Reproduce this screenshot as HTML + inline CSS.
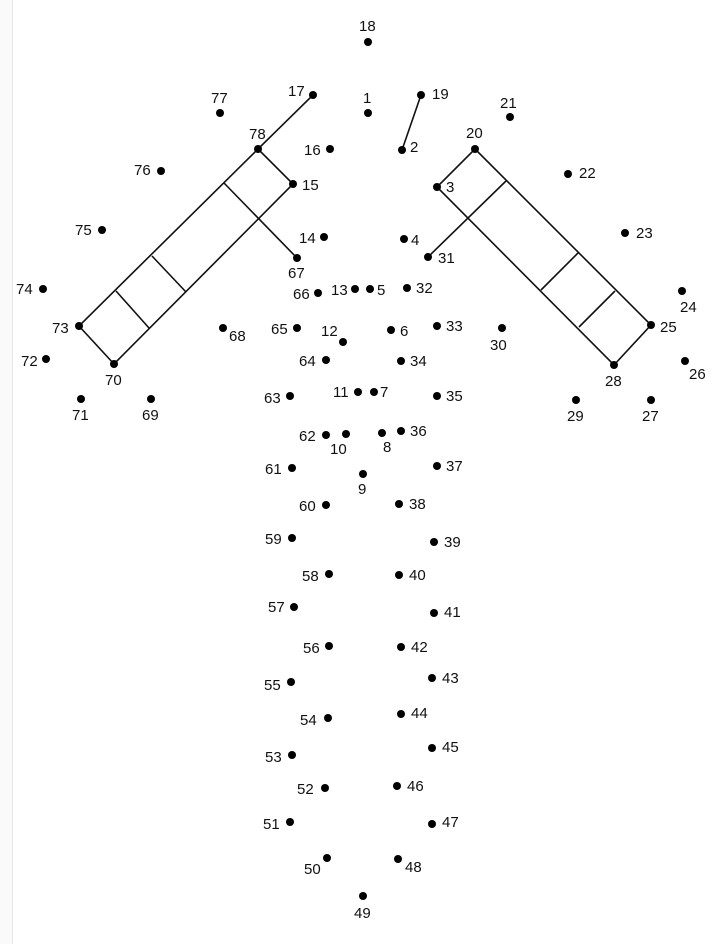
<!DOCTYPE html>
<html><head><meta charset="utf-8"><style>
html,body{margin:0;padding:0;background:#fff;}
svg{display:block}
text{font-family:"Liberation Sans",sans-serif;font-size:15px;fill:#111}
</style></head><body>
<svg width="728" height="944" viewBox="0 0 728 944" xmlns="http://www.w3.org/2000/svg">
<rect x="0" y="0" width="12" height="944" fill="#fafafa"/>
<line x1="12.5" y1="0" x2="12.5" y2="944" stroke="#e8e8e8" stroke-width="1"/>
<g stroke="#111" stroke-width="1.6" fill="none">
<line x1="313" y1="95" x2="258" y2="149"/>
<polygon points="258,149 293,184 114,364 79,326"/>
<line x1="224" y1="183" x2="297" y2="258"/>
<line x1="152" y1="256" x2="186" y2="292"/>
<line x1="116" y1="291" x2="149" y2="328"/>
<line x1="421" y1="95" x2="402" y2="150"/>
<polygon points="475,149 651,325 614,365 437,187"/>
<line x1="506" y1="181" x2="428" y2="257"/>
<line x1="578" y1="253" x2="541" y2="290"/>
<line x1="615" y1="291" x2="579" y2="327"/>
</g>
<g fill="#000">
<circle cx="368" cy="42" r="4"/><circle cx="313" cy="95" r="4"/><circle cx="421" cy="95" r="4"/>
<circle cx="220" cy="113" r="4"/><circle cx="368" cy="113" r="4"/><circle cx="510" cy="117" r="4"/>
<circle cx="258" cy="149" r="4"/><circle cx="330" cy="149" r="4"/><circle cx="402" cy="150" r="4"/><circle cx="475" cy="149" r="4"/>
<circle cx="161" cy="171" r="4"/><circle cx="568" cy="174" r="4"/><circle cx="293" cy="184" r="4"/><circle cx="437" cy="187" r="4"/>
<circle cx="102" cy="230" r="4"/><circle cx="625" cy="233" r="4"/><circle cx="324" cy="237" r="4"/><circle cx="404" cy="239" r="4"/>
<circle cx="297" cy="258" r="4"/><circle cx="428" cy="257" r="4"/>
<circle cx="43" cy="289" r="4"/><circle cx="682" cy="291" r="4"/>
<circle cx="318" cy="293" r="4"/><circle cx="355" cy="289" r="4"/><circle cx="370" cy="289" r="4"/><circle cx="407" cy="288" r="4"/>
<circle cx="79" cy="326" r="4"/><circle cx="223" cy="328" r="4"/><circle cx="297" cy="328" r="4"/><circle cx="343" cy="342" r="4"/>
<circle cx="391" cy="330" r="4"/><circle cx="437" cy="326" r="4"/><circle cx="502" cy="328" r="4"/><circle cx="651" cy="325" r="4"/>
<circle cx="46" cy="359" r="4"/><circle cx="685" cy="361" r="4"/><circle cx="114" cy="364" r="4"/><circle cx="326" cy="360" r="4"/><circle cx="401" cy="361" r="4"/><circle cx="614" cy="365" r="4"/>
<circle cx="81" cy="399" r="4"/><circle cx="151" cy="399" r="4"/><circle cx="290" cy="396" r="4"/><circle cx="358" cy="392" r="4"/><circle cx="374" cy="392" r="4"/><circle cx="437" cy="396" r="4"/>
<circle cx="576" cy="400" r="4"/><circle cx="651" cy="400" r="4"/>
<circle cx="326" cy="435" r="4"/><circle cx="346" cy="434" r="4"/><circle cx="382" cy="433" r="4"/><circle cx="401" cy="431" r="4"/>
<circle cx="292" cy="468" r="4"/><circle cx="363" cy="474" r="4"/><circle cx="437" cy="466" r="4"/>
<circle cx="326" cy="505" r="4"/><circle cx="399" cy="504" r="4"/>
<circle cx="292" cy="538" r="4"/><circle cx="434" cy="542" r="4"/>
<circle cx="329" cy="574" r="4"/><circle cx="399" cy="575" r="4"/>
<circle cx="294" cy="607" r="4"/><circle cx="434" cy="613" r="4"/>
<circle cx="329" cy="646" r="4"/><circle cx="401" cy="647" r="4"/>
<circle cx="291" cy="682" r="4"/><circle cx="432" cy="678" r="4"/>
<circle cx="328" cy="718" r="4"/><circle cx="401" cy="714" r="4"/>
<circle cx="292" cy="755" r="4"/><circle cx="432" cy="748" r="4"/>
<circle cx="325" cy="788" r="4"/><circle cx="397" cy="786" r="4"/>
<circle cx="290" cy="822" r="4"/><circle cx="432" cy="824" r="4"/>
<circle cx="327" cy="858" r="4"/><circle cx="398" cy="859" r="4"/>
<circle cx="363" cy="896" r="4"/>
</g>
<g>
<text x="359" y="31">18</text>
<text x="288" y="96">17</text>
<text x="432" y="99">19</text>
<text x="211" y="103">77</text>
<text x="363" y="103">1</text>
<text x="500" y="108">21</text>
<text x="249" y="139">78</text>
<text x="304" y="155">16</text>
<text x="410" y="152">2</text>
<text x="466" y="138">20</text>
<text x="134" y="175">76</text>
<text x="579" y="178">22</text>
<text x="302" y="190">15</text>
<text x="446" y="192">3</text>
<text x="75" y="235">75</text>
<text x="636" y="238">23</text>
<text x="299" y="243">14</text>
<text x="411" y="245">4</text>
<text x="288" y="278">67</text>
<text x="438" y="263">31</text>
<text x="16" y="294">74</text>
<text x="680" y="312">24</text>
<text x="293" y="299">66</text>
<text x="331" y="295">13</text>
<text x="377" y="295">5</text>
<text x="416" y="293">32</text>
<text x="52" y="333">73</text>
<text x="229" y="341">68</text>
<text x="271" y="334">65</text>
<text x="321" y="336">12</text>
<text x="400" y="336">6</text>
<text x="446" y="331">33</text>
<text x="490" y="350">30</text>
<text x="660" y="332">25</text>
<text x="21" y="366">72</text>
<text x="689" y="379">26</text>
<text x="105" y="385">70</text>
<text x="299" y="366">64</text>
<text x="410" y="366">34</text>
<text x="605" y="386">28</text>
<text x="72" y="420">71</text>
<text x="142" y="420">69</text>
<text x="264" y="403">63</text>
<text x="333" y="397">11</text>
<text x="380" y="397">7</text>
<text x="446" y="401">35</text>
<text x="567" y="421">29</text>
<text x="642" y="421">27</text>
<text x="299" y="441">62</text>
<text x="330" y="454">10</text>
<text x="383" y="452">8</text>
<text x="410" y="436">36</text>
<text x="265" y="474">61</text>
<text x="358" y="494">9</text>
<text x="446" y="471">37</text>
<text x="299" y="511">60</text>
<text x="409" y="509">38</text>
<text x="265" y="544">59</text>
<text x="444" y="547">39</text>
<text x="302" y="581">58</text>
<text x="409" y="580">40</text>
<text x="268" y="612">57</text>
<text x="444" y="617">41</text>
<text x="303" y="653">56</text>
<text x="411" y="652">42</text>
<text x="264" y="690">55</text>
<text x="442" y="683">43</text>
<text x="300" y="725">54</text>
<text x="411" y="718">44</text>
<text x="265" y="762">53</text>
<text x="442" y="752">45</text>
<text x="297" y="794">52</text>
<text x="407" y="791">46</text>
<text x="263" y="829">51</text>
<text x="442" y="827">47</text>
<text x="304" y="874">50</text>
<text x="405" y="872">48</text>
<text x="354" y="918">49</text>
</g>
</svg>
</body></html>
